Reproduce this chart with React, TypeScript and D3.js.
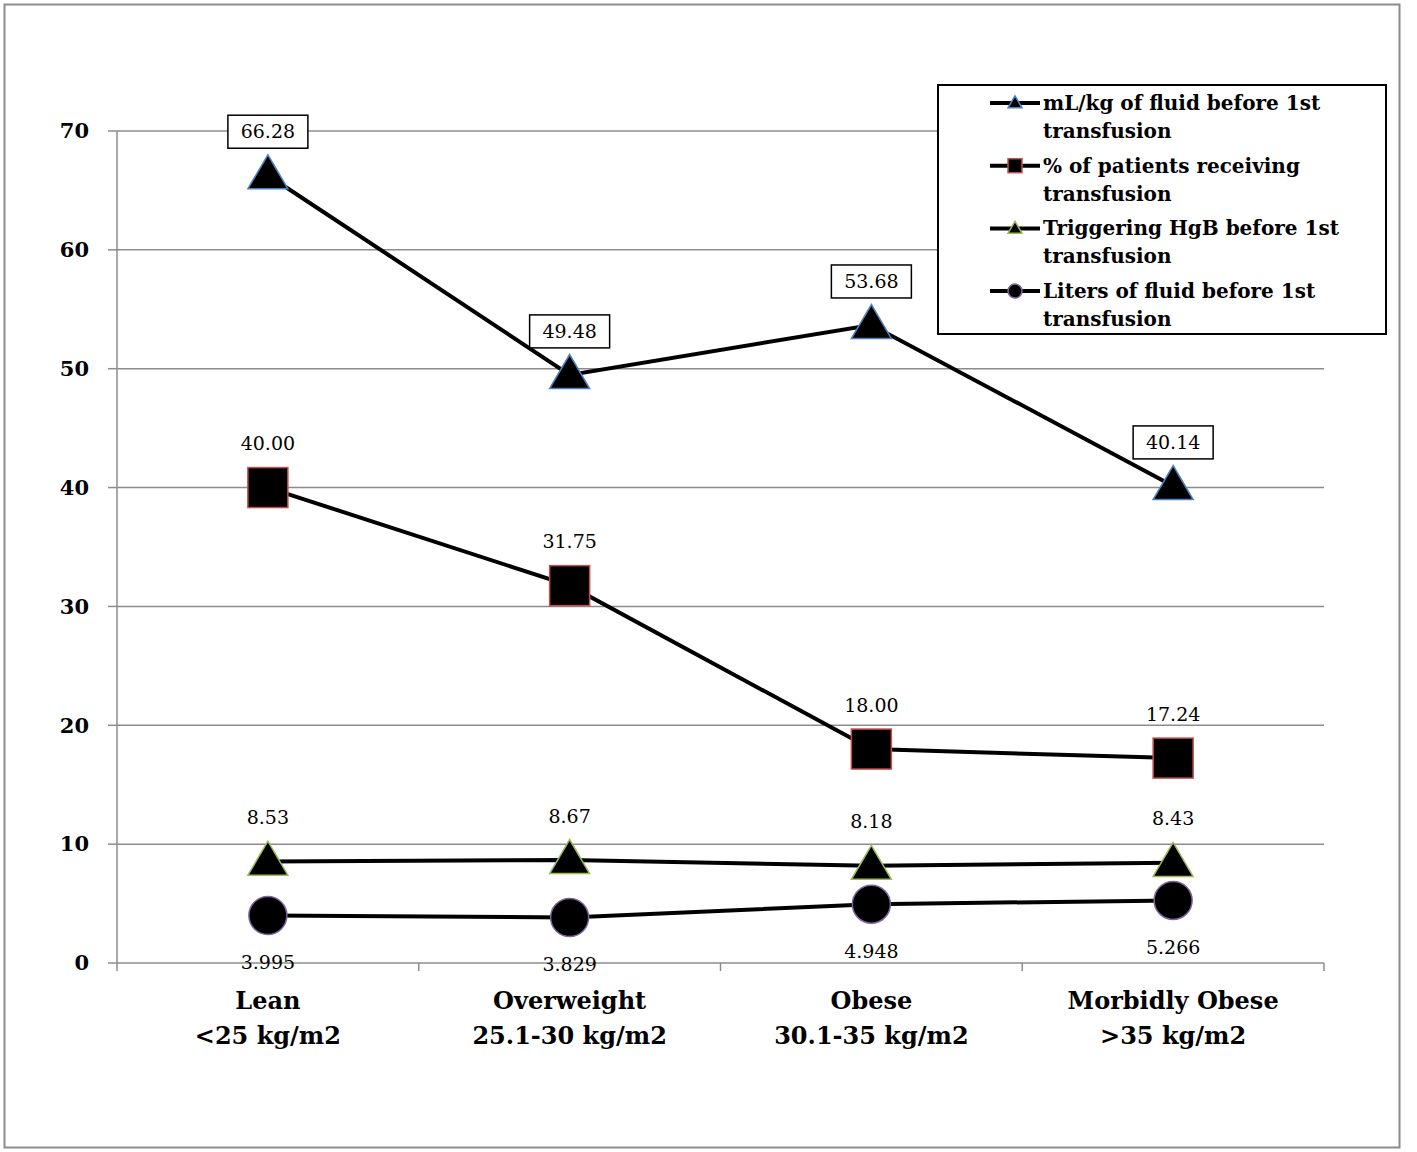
import React from 'react'
import * as d3 from 'd3'

const categories = ['Lean', 'Overweight', 'Obese', 'Morbidly Obese']
const categoryRanges = ['<25 kg/m2', '25.1-30 kg/m2', '30.1-35 kg/m2', '>35 kg/m2']

const mlPerKg = [66.28, 49.48, 53.68, 40.14]
const pctTransfused = [40.0, 31.75, 18.0, 17.24]
const triggerHgb = [8.53, 8.67, 8.18, 8.43]
const litersFluid = [3.995, 3.829, 4.948, 5.266]

const yTicks = [0, 10, 20, 30, 40, 50, 60, 70]

type Marker = 'triangle' | 'square' | 'circle'

interface Series {
  name: string[]
  values: number[]
  marker: Marker
  edge: string
  fmt: (v: number) => string
  labelPos: 'above' | 'below'
  boxed: boolean
}

const series: Series[] = [
  { name: ['mL/kg of fluid before 1st', 'transfusion'], values: mlPerKg, marker: 'triangle', edge: '#4f81bd', fmt: v => v.toFixed(2), labelPos: 'above', boxed: true },
  { name: ['% of patients receiving', 'transfusion'], values: pctTransfused, marker: 'square', edge: '#c0504d', fmt: v => v.toFixed(2), labelPos: 'above', boxed: false },
  { name: ['Triggering HgB before 1st', 'transfusion'], values: triggerHgb, marker: 'triangle', edge: '#9bbb59', fmt: v => v.toFixed(2), labelPos: 'above', boxed: false },
  { name: ['Liters of fluid before 1st', 'transfusion'], values: litersFluid, marker: 'circle', edge: '#8064a2', fmt: v => v.toFixed(3), labelPos: 'below', boxed: false },
]

const serif = "'DejaVu Serif', 'Liberation Serif', serif"

function MarkerShape({ type, x, y, size, edge }: { type: Marker; x: number; y: number; size: number; edge: string }) {
  if (type === 'triangle') {
    const w = size
    const h = size * 0.85
    const pts = [[x, y - h * 0.6], [x - w / 2, y + h * 0.4], [x + w / 2, y + h * 0.4]]
    return <polygon points={pts.map(p => p.join(',')).join(' ')} fill="#000" stroke={edge} strokeWidth={1.5} />
  }
  if (type === 'square') {
    return <rect x={x - size / 2} y={y - size / 2} width={size} height={size} fill="#000" stroke={edge} strokeWidth={1.5} />
  }
  return <circle cx={x} cy={y} r={size / 2} fill="#000" stroke={edge} strokeWidth={1.5} />
}

export default function App() {
  const width = 1417
  const height = 1152
  const margin = { left: 117, right: 1324, top: 131, bottom: 963 }

  const x = d3.scaleBand<string>().domain(categories).range([margin.left, margin.right])
  const y = d3.scaleLinear().domain([0, 70]).range([margin.bottom, margin.top])
  const cx = (c: string) => (x(c) ?? 0) + x.bandwidth() / 2

  const line = d3.line<number>()
    .x((_, i) => cx(categories[i]))
    .y(d => y(d))

  const bandEdges = categories.map(c => x(c) ?? 0).concat([margin.right])

  return (
    <svg width={width} height={height} style={{ display: 'block', position: 'absolute', left: 0, top: 0 }}>
      <rect x={0} y={0} width={width} height={height} fill="#fff" />
      <rect x={4.5} y={4.5} width={1395} height={1143} fill="none" stroke="#8c8c8c" strokeWidth={2} />

      {/* gridlines */}
      {yTicks.filter(t => t > 0).map(t => (
        <line key={t} x1={margin.left} x2={margin.right} y1={y(t)} y2={y(t)} stroke="#8c8c8c" strokeWidth={1.5} />
      ))}
      {/* y axis */}
      <line x1={margin.left} x2={margin.left} y1={y(70)} y2={y(0)} stroke="#8c8c8c" strokeWidth={1.5} />
      {yTicks.map(t => (
        <g key={t}>
          <line x1={margin.left - 9} x2={margin.left} y1={y(t)} y2={y(t)} stroke="#8c8c8c" strokeWidth={1.5} />
          <text x={89} y={y(t)} dy="0.35em" textAnchor="end" fontFamily={serif} fontWeight="bold" fontSize={21}>{t}</text>
        </g>
      ))}
      {/* x axis */}
      <line x1={margin.left} x2={margin.right} y1={y(0)} y2={y(0)} stroke="#8c8c8c" strokeWidth={1.5} />
      {bandEdges.map((e, i) => (
        <line key={i} x1={e} x2={e} y1={y(0)} y2={y(0) + 8} stroke="#8c8c8c" strokeWidth={1.5} />
      ))}
      {categories.map((c, i) => (
        <text key={c} x={cx(c)} textAnchor="middle" fontFamily={serif} fontWeight="bold" fontSize={24}>
          <tspan x={cx(c)} y={1009}>{c}</tspan>
          <tspan x={cx(c)} y={1044}>{categoryRanges[i]}</tspan>
        </text>
      ))}

      {/* lines */}
      {series.map((s, si) => (
        <path key={si} d={line(s.values) ?? ''} fill="none" stroke="#000" strokeWidth={4} />
      ))}
      {/* markers */}
      {series.map((s, si) => s.values.map((v, i) => (
        <MarkerShape key={si + '-' + i} type={s.marker} x={cx(categories[i])} y={y(v)} size={s.marker === 'circle' ? 38 : 40} edge={s.edge} />
      )))}
      {/* data labels */}
      {series.map((s, si) => s.values.map((v, i) => {
        const px = cx(categories[i])
        const py = s.labelPos === 'above' ? y(v) - 44 : y(v) + 47
        return (
          <g key={'l' + si + '-' + i}>
            {s.boxed && <rect x={px - 40} y={py - 16} width={80} height={33} fill="#fff" stroke="#000" strokeWidth={1.5} />}
            <text x={px} y={py} dy="0.35em" textAnchor="middle" fontFamily={serif} fontSize={19}>{s.fmt(v)}</text>
          </g>
        )
      }))}

      {/* legend */}
      <rect x={938} y={85} width={448} height={249} fill="#fff" stroke="#000" strokeWidth={2} />
      {series.map((s, si) => {
        const ry = 103 + si * 62.7
        return (
          <g key={'lg' + si}>
            <line x1={990} x2={1040} y1={ry} y2={ry} stroke="#000" strokeWidth={4} />
            <MarkerShape type={s.marker} x={1015} y={ry} size={14} edge={s.edge} />
            <text fontFamily={serif} fontWeight="bold" fontSize={20}>
              <tspan x={1043} y={ry + 7}>{s.name[0]}</tspan>
              <tspan x={1043} y={ry + 35}>{s.name[1]}</tspan>
            </text>
          </g>
        )
      })}
    </svg>
  )
}
